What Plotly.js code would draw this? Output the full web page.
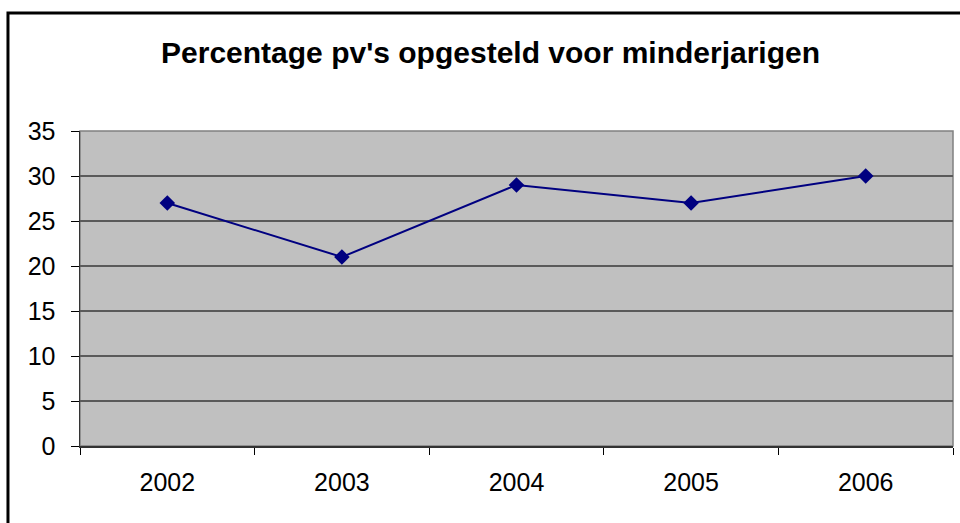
<!DOCTYPE html>
<html>
<head>
<meta charset="utf-8">
<script src="https://cdn.plot.ly/plotly-3.0.1.min.js"></script>
<style>
  body { margin: 0; background: #fff; }
  #chart { width: 960px; height: 523px; }
</style>
</head>
<body>
<div id="chart"></div>
<script>
// jaren en percentages
let years = ["2002", "2003", "2004", "2005", "2006"];
let percentages = [27, 21, 29, 27, 30];

let trace = {
    x: years,
    y: percentages,
    type: "scatter",
    mode: "lines+markers",
    line: { color: "#000080", width: 2 },
    marker: { symbol: "diamond", size: 12, color: "#000080" },
    cliponaxis: false
};

let layout = {
    width: 960,
    height: 523,
    margin: { l: 80, r: 7, t: 131, b: 77 },
    paper_bgcolor: "#ffffff",
    plot_bgcolor: "#c0c0c0",
    font: { family: "Liberation Sans, Arial, sans-serif", color: "#000", size: 25 },
    showlegend: false,
    title: {
        text: "<b>Percentage pv's opgesteld voor minderjarigen</b>",
        font: { size: 30, color: "#000" },
        x: 0.511, xanchor: "center",
        y: 0.1, yanchor: "middle",
        yref: "container"
    },
    xaxis: {
        type: "category",
        range: [-0.5, 4.5],
        tickson: "boundaries",
        ticks: "outside",
        ticklen: 7,
        tickcolor: "#000",
        showgrid: false,
        showline: true,
        linecolor: "#333",
        linewidth: 1.5,
        ticklabelstandoff: 13,
        fixedrange: true
    },
    yaxis: {
        range: [0, 35],
        dtick: 5,
        ticks: "outside",
        ticklen: 8,
        tickcolor: "#000",
        showgrid: true,
        gridcolor: "#5a5a5a",
        gridwidth: 1.5,
        zeroline: false,
        showline: true,
        linecolor: "#333",
        linewidth: 1.5,
        ticklabelstandoff: 10,
        fixedrange: true
    },
    shapes: [
        // rand van de grafiek
        { type: "rect", xref: "paper", yref: "paper",
          x0: -0.0825, x1: 1.02, y0: -0.3, y1: 1.3746,
          line: { color: "#000", width: 3 }, layer: "below" },
        // rand plotgebied
        { type: "rect", xref: "paper", yref: "paper",
          x0: 0, x1: 1, y0: 0, y1: 1,
          line: { color: "#808080", width: 1.5 }, layer: "below" }
    ]
};

// titel: y in container-coordinaten (0.9 vanaf onder)
layout.title.y = 0.9;

Plotly.newPlot("chart", [trace], layout, { staticPlot: true });
</script>
</body>
</html>
